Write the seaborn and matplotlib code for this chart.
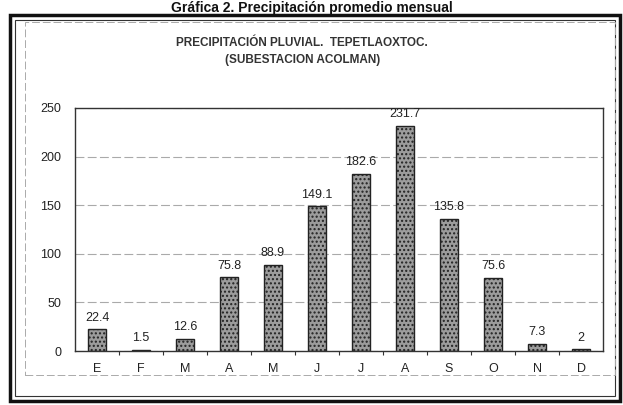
import matplotlib
matplotlib.use("Agg")
import matplotlib.pyplot as plt
import seaborn as sns
import pandas as pd
import numpy as np
from matplotlib.patches import Rectangle

meses = ["E", "F", "M", "A", "M", "J", "J", "A", "S", "O", "N", "D"]
precipitacion = [22.4, 1.5, 12.6, 75.8, 88.9, 149.1, 182.6, 231.7, 135.8, 75.6, 7.3, 2]
etiquetas = ["22.4", "1.5", "12.6", "75.8", "88.9", "149.1", "182.6", "231.7", "135.8", "75.6", "7.3", "2"]

sns.set_style("white")
plt.rcParams["font.family"] = ["Liberation Sans", "DejaVu Sans"]
plt.rcParams["hatch.color"] = "#555555"

df = pd.DataFrame({"pos": range(len(meses)), "mm": precipitacion})

fig = plt.figure(figsize=(6.23, 4.05), dpi=100)
ax = fig.add_axes([75 / 623, 1 - 351 / 405, 528 / 623, 243 / 405])

sns.barplot(data=df, x="pos", y="mm", color="#9c9c9c", width=0.42,
            edgecolor="#222222", linewidth=1.0, saturation=1, ax=ax)
for p in ax.patches:
    p.set_hatch("....")

ax.bar_label(ax.containers[0], labels=etiquetas, padding=4, fontsize=9, color="#222222")

ax.set_ylim(0, 250)
ax.set_yticks([0, 50, 100, 150, 200, 250])
ax.set_xticks(range(len(meses)))
ax.set_xticklabels(meses)
ax.set_xticks(np.arange(0.5, len(meses) - 1, 1), minor=True)
ax.tick_params(axis="both", labelsize=9, colors="#222222", length=0, pad=9)
ax.tick_params(axis="x", which="minor", length=3, width=0.8, color="#333333", bottom=True)
ax.tick_params(axis="y", pad=10)
ax.set_xlabel("")
ax.set_ylabel("")
ax.yaxis.grid(True, color="#aaaaaa", linestyle=(0, (8, 3)), linewidth=0.8)
ax.set_axisbelow(True)
for s in ax.spines.values():
    s.set_color("#333333")
    s.set_linewidth(1.0)

# titulo
fig.text(0.485, 1 - 43 / 405, "PRECIPITACIÓN PLUVIAL.  TEPETLAOXTOC.", ha="center", va="center",
         fontsize=8.5, fontweight="bold", color="#333333")
fig.text(0.485, 1 - 60 / 405, "(SUBESTACION ACOLMAN)", ha="center", va="center",
         fontsize=8.5, fontweight="bold", color="#333333")
fig.text(0.5, 1 - 1 / 405, "Gráfica 2. Precipitación promedio mensual", ha="center", va="top",
         fontsize=10, fontweight="bold", color="#111111")

# marcos
fig.patches.append(Rectangle((10 / 623, 4 / 405), 610 / 623, 386 / 405, transform=fig.transFigure,
                             fill=False, edgecolor="#111111", linewidth=2.5))
fig.patches.append(Rectangle((15 / 623, 9 / 405), 600 / 623, 376 / 405, transform=fig.transFigure,
                             fill=False, edgecolor="#333333", linewidth=0.8))
fig.patches.append(Rectangle((25 / 623, 30 / 405), 590 / 623, 353 / 405, transform=fig.transFigure,
                             fill=False, edgecolor="#aaaaaa", linewidth=0.7, linestyle=(0, (8, 3))))

fig.savefig("out.png", dpi=100)
